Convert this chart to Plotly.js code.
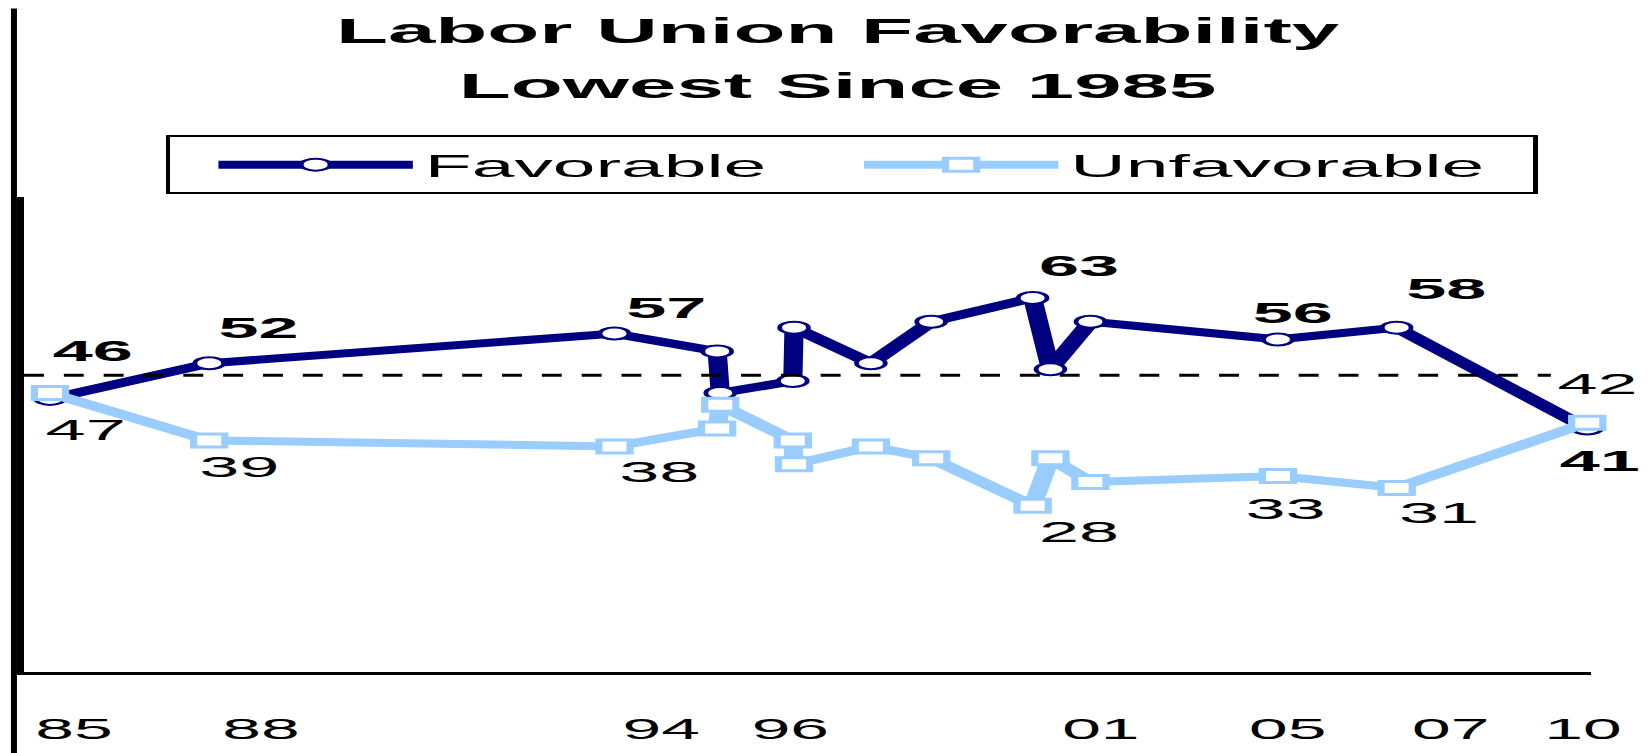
<!DOCTYPE html>
<html>
<head>
<meta charset="utf-8">
<script src="https://cdn.plot.ly/plotly-3.0.1.min.js"></script>
<style>
  html, body { margin: 0; padding: 0; background: #ffffff; overflow: hidden; }
  #chart { width: 688px; height: 753px; transform: scaleX(2.39971); transform-origin: 0 0; }
</style>
</head>
<body>
<div id="chart"></div>
<script>
// ---- data ----
const surveyDates = [1985.00, 1987.59, 1994.18, 1995.85, 1995.90, 1997.08, 1997.10, 1998.35, 1999.33, 2000.98, 2001.27, 2001.92, 2004.97, 2006.90, 2010.00];
const favorable   = [46, 52, 57, 54, 47, 49, 58, 52, 59, 63, 51, 59, 56, 58, 41];
const unfavorable = [47, 39, 38, 41, 45, 39, 35, 38, 36, 28, 36, 32, 33, 31, 42];
const tickYears   = [1985.39, 1988.43, 1994.94, 1997.04, 2002.09, 2005.13, 2007.78, 2009.93];
const tickLabels  = ['85', '88', '94', '96', '01', '05', '07', '10'];
const labeledPoints = [0, 1, 2, 9, 12, 13, 14];
const referenceLevel = 50;

// ---- label placement (pixel offsets, styling only) ----
const favShift   = {0: [18, 48], 1: [20, 36], 2: [21, 26], 9: [19, 32], 12: [6.4, 27], 13: [20.5, 39.5], 14: [4.9, -31.5]};
const unfavShift = {0: [14.6, -37], 1: [12.7, -26.4], 2: [18.75, -25.4], 9: [18.9, -26], 12: [2.7, -32.7], 13: [17.9, -24.6], 14: [3.7, 39]};

const FAV = '#000080';
const UNFAV = '#99CCFF';
const FONT = '"Liberation Sans", Arial, sans-serif';

const traces = [
  {
    type: 'scatter', mode: 'lines+markers', name: 'Favorable',
    x: surveyDates, y: favorable, cliponaxis: false, legendwidth: 158,
    line: {color: FAV, width: 8},
    marker: {symbol: 'circle', size: 12, color: '#ffffff', line: {color: FAV, width: 2}}
  },
  {
    type: 'scatter', mode: 'lines+markers', name: 'Unfavorable',
    x: surveyDates, y: unfavorable, cliponaxis: false, legendwidth: 187.5,
    line: {color: UNFAV, width: 8},
    marker: {symbol: 'square', size: 13, color: '#ffffff', line: {color: UNFAV, width: 3}}
  }
];

const annotations = [];
labeledPoints.forEach(i => {
  annotations.push({
    x: surveyDates[i], y: favorable[i], xref: 'x', yref: 'y', text: String(favorable[i]),
    showarrow: false, xanchor: 'center', yanchor: 'middle',
    xshift: favShift[i][0], yshift: favShift[i][1],
    font: {family: FONT, size: 30, color: '#000000', weight: 'bold'}
  });
  annotations.push({
    x: surveyDates[i], y: unfavorable[i], xref: 'x', yref: 'y', text: String(unfavorable[i]),
    showarrow: false, xanchor: 'center', yanchor: 'middle',
    xshift: unfavShift[i][0], yshift: unfavShift[i][1],
    font: {family: FONT, size: 30, color: '#000000'}
  });
});

const layout = {
  width: 688, height: 753,
  paper_bgcolor: '#ffffff', plot_bgcolor: '#ffffff',
  margin: {l: 10, r: 25.4, t: 197, b: 81, pad: 0},
  font: {family: FONT, color: '#000000'},
  title: {
    text: '<span style="font-size:35.5px">Labor Union Favorability</span><br><span style="font-size:35.5px">Lowest Since 1985</span>',
    font: {family: FONT, size: 42, color: '#000000', weight: 'bold'},
    xref: 'container', yref: 'container', x: 0.5073, xanchor: 'center', y: 0.943, yanchor: 'top'
  },
  showlegend: true,
  legend: {
    orientation: 'h', x: 0.0904, xanchor: 'left', y: 1.1298, yanchor: 'top',
    bordercolor: '#000000', borderwidth: 2, bgcolor: '#ffffff',
    font: {family: FONT, size: 32, color: '#000000'},
    itemwidth: 81, entrywidthmode: 'pixels', indentation: 15
  },
  xaxis: {
    range: [1984.577, 2010.061], showgrid: false, zeroline: false,
    showline: true, linecolor: '#000000', linewidth: 3,
    tickmode: 'array', tickvals: tickYears, ticktext: tickLabels, ticks: '',
    ticklabelstandoff: 29,
    tickfont: {family: FONT, size: 29, color: '#000000'}
  },
  yaxis: {
    range: [0, 80], showgrid: false, zeroline: false,
    showline: true, linecolor: '#000000', linewidth: 3,
    showticklabels: false, ticks: ''
  },
  shapes: [
    {type: 'line', xref: 'paper', yref: 'y', x0: 0, x1: 0.9744, y0: referenceLevel, y1: referenceLevel,
     line: {color: '#000000', width: 3, dash: '8.3px,8.3px'}},
    {type: 'line', xref: 'paper', yref: 'paper', x0: -0.0064, x1: -0.0064, y0: -0.1704, y1: 1.397,
     line: {color: '#000000', width: 2.5}}
  ],
  annotations: annotations
};

Plotly.newPlot('chart', traces, layout, {displayModeBar: false, staticPlot: true});
</script>
</body>
</html>
